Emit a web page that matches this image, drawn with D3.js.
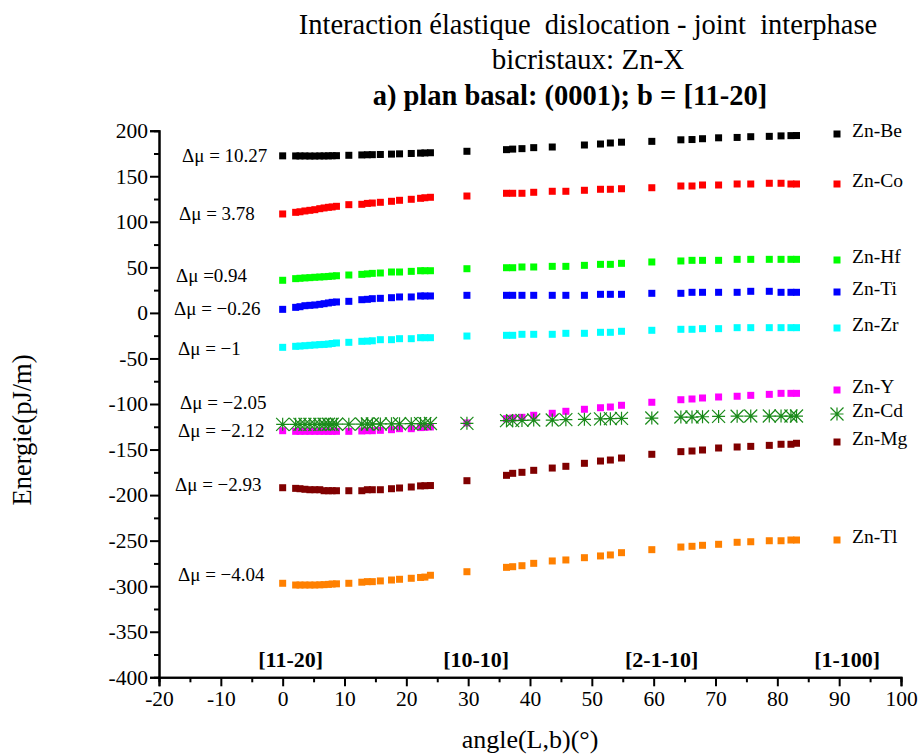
<!DOCTYPE html>
<html>
<head>
<meta charset="utf-8">
<script src="https://cdn.jsdelivr.net/npm/d3@7"></script>
<style>
  html, body { margin: 0; padding: 0; background: #fff; }
  svg { display: block; font-family: "Liberation Serif", "Times New Roman", serif; }
</style>
</head>
<body>
<svg id="chart" width="919" height="755"></svg>
<script>
// Angle between dislocation line L and Burgers vector b (degrees)
const angles = [0, 2.1, 2.8, 3.6, 4.4, 5.2, 6.0, 6.7, 7.4, 8.0, 8.7,
  10.7, 12.8, 13.7, 14.5, 15.8, 17.6, 18.9, 20.8, 22.3, 23.0, 23.9,
  29.8,
  36.2, 37.2, 38.7, 40.6, 43.6, 45.8, 48.8, 51.4, 53.0, 54.8,
  59.7,
  64.4, 66.2, 67.9, 70.5, 73.5, 75.7, 78.7, 80.6, 82.2, 83.1];

// Interaction energy (pJ/m) for each bicrystal
const znBe = [172.4,172.3,172.3,172.3,172.2,172.2,172.3,172.3,172.4,172.5,172.6,
  173.0,173.4,173.6,173.7,173.9,174.3,174.6,175.0,175.4,175.6,175.8,
  177.4,
  179.2,179.8,180.3,181.4,182.1,null,184.3,185.4,186.5,187.4,
  188.3,
  190.0,190.3,191.2,192.2,192.6,193.4,193.8,194.3,194.6,194.7];
const znCo = [108.6,110.4,111.0,111.9,112.6,113.3,114.4,115.2,115.9,116.3,117.0,
  118.8,119.2,120.2,120.6,121.4,122.5,123.6,124.7,125.8,126.4,126.9,
  128.3,
  131.3,131.3,131.3,132.4,133.5,133.5,134.6,135.7,135.7,136.3,
  137.4,
  139.3,139.3,140.4,140.4,141.5,141.5,142.3,142.3,141.5,141.5];
const znHf = [35.8,37.6,38.0,38.4,38.7,39.1,39.4,39.7,40.0,40.4,40.8,
  41.6,42.3,42.8,43.4,43.8,44.9,44.9,45.6,46.3,46.3,46.3,
  48.5,
  49.6,49.6,50.4,50.4,51.1,51.1,52.2,53.3,53.3,54.4,
  55.9,
  57.0,57.7,57.7,57.7,58.8,58.8,58.8,58.8,58.8,58.8];
const znTi = [3.9,6.1,6.8,7.9,8.3,8.7,9.4,10.1,10.9,11.6,12.0,
  12.7,14.5,14.9,15.6,16.0,16.7,17.5,17.5,18.6,18.6,18.6,
  19.3,
  19.3,19.3,19.3,19.3,19.3,19.3,19.3,20.4,20.4,20.4,
  21.5,
  21.5,22.6,22.6,22.6,22.6,23.7,23.7,22.6,22.6,22.6];
const znZr = [-37.8,-36.7,-36.4,-36.0,-35.6,-35.2,-34.8,-34.6,-34.2,-33.6,-33.0,
  -32.3,-31.2,-31.0,-30.6,-29.4,-29.4,-28.3,-28.3,-27.2,-27.2,-27.2,
  -25.4,
  -24.6,-24.6,-23.5,-23.5,-23.5,-22.4,-22.4,-21.3,-21.3,-20.2,
  -19.1,
  -18.0,-18.0,-17.3,-17.3,-16.2,-16.2,-16.2,-16.2,-16.2,-16.2];
const znY = [-129.3,-130,-130,-130,-130,-130,-130,-130,-130,-130,-130,
  -130,-129.6,-129.3,-129.3,-128.9,-128.2,-127.1,-127.1,-125.9,-125.6,-125.2,
  -120.8,
  -116.1,-115.4,-114.6,-112.4,-110.2,-108.0,-105.8,-104.1,-103.3,-101.4,
  -98.1,
  -95.3,-94.5,-93.4,-92.3,-91.5,-90.5,-89.4,-88.3,-88.3,-88.3];
const znCd = [-122.3,-122.3,-122.3,-122.3,-122.3,-122.3,-122.3,-122.2,-122.2,-122.2,-122.2,
  -122.1,-122.0,-122.0,-122.0,-121.9,-121.8,-121.7,-121.6,-121.5,-121.5,-121.4,
  -121.2,
  -118.3,-118.3,-118.0,-117.6,-117.6,-117.2,-116.8,-116.4,-116.1,-115.7,
  -115.4,
  -114.3,-114.3,-114.0,-113.6,-113.4,-113.2,-113.2,-113.2,-113.2,-113.2];
const znMg = [-191.9,-192.6,-193.0,-193.6,-194.1,-194.1,-194.1,-195.2,-195.2,-195.2,-195.2,
  -195.2,-195.2,-194.1,-194.1,-194.1,-193.0,-192.2,-191.1,-189.9,-189.7,-189.5,
  -184.2,
  -178.3,-176.1,-175.0,-172.8,-170.3,-168.4,-165.1,-162.6,-161.5,-159.3,
  -155.2,
  -152.3,-151.6,-150.5,-148.3,-147.2,-146.5,-145.4,-144.2,-144.2,-143.1];
const znTl = [-296.8,-298.7,-298.7,-298.7,-298.7,-298.7,-298.5,-298.3,-298.0,-297.6,-297.4,
  -296.8,-295.6,-295.0,-295.0,-294.2,-293.2,-292.4,-291.3,-290.4,-290.0,-288.0,
  -284.1,
  -279.3,-278.6,-277.5,-274.9,-272.3,-271.2,-268.7,-266.8,-265.7,-263.2,
  -259.9,
  -257.0,-256.2,-255.1,-254.0,-251.8,-251.2,-250.1,-250.1,-249.3,-249.3];

const seriesNames = ["Zn-Be", "Zn-Co", "Zn-Hf", "Zn-Ti", "Zn-Zr", "Zn-Y", "Zn-Cd", "Zn-Mg", "Zn-Tl"];
const seriesValues = [znBe, znCo, znHf, znTi, znZr, znY, znCd, znMg, znTl];
const deltaMu = ["10.27", "3.78", "0.94", "\u22120.26", "\u22121", "\u22122.05", "\u22122.12", "\u22122.93", "\u22124.04"];

const xTicks = [-20, -10, 0, 10, 20, 30, 40, 50, 60, 70, 80, 90, 100];
const yTicks = [200, 150, 100, 50, 0, -50, -100, -150, -200, -250, -300, -350, -400];
const directionLabels = ["[11-20]", "[10-10]", "[2-1-10]", "[1-100]"];
const directionAngles = [0, 30, 60, 90];

// ---- styling / layout ----
const colors = ["#000000", "#ff0000", "#00ff00", "#0000ff", "#00ffff", "#ff00ff", "#1a8a1a", "#800000", "#ff8000"];
const symbols = ["square", "square", "square", "square", "square", "square", "asterisk", "square", "square"];
const legendY = [134, 184, 260, 292, 328, 390, 414, 442, 540];
const dmuPos = [[182, 156], [179, 214], [176, 276], [174, 309], [178, 349], [180, 403], [178, 431], [175, 485], [178, 575]];

const svg = d3.select("#chart");
const x = d3.scaleLinear().domain([-20, 100]).range([159, 901]);
const y = d3.scaleLinear().domain([-400, 200]).range([677.3, 130.7]);

// Titles
const title = svg.append("g").attr("fill", "#000").attr("text-anchor", "middle");
title.append("text").attr("x", 588).attr("y", 34).attr("font-size", 28.5)
  .attr("xml:space", "preserve")
  .text("Interaction élastique  dislocation - joint  interphase");
title.append("text").attr("x", 588).attr("y", 69).attr("font-size", 29).text("bicristaux: Zn-X");
title.append("text").attr("x", 570).attr("y", 105).attr("font-size", 28.5).attr("font-weight", "bold")
  .text("a) plan basal: (0001); b = [11-20]");

// Axes
const fmt = d => String(d);
const yAxis = d3.axisLeft(y).tickValues(yTicks).tickSize(9).tickPadding(2).tickFormat(fmt);
const yMinor = d3.axisLeft(y).tickValues(d3.range(-375, 200, 50)).tickSize(5).tickFormat("");
const xAxis = d3.axisBottom(x).tickValues(xTicks).tickSize(9).tickPadding(4).tickFormat(fmt);
const xMinor = d3.axisBottom(x).tickValues(d3.range(-15, 100, 10)).tickSize(5).tickFormat("");

function styleAxis(g) {
  g.selectAll(".domain").attr("stroke", "#000").attr("stroke-width", 2);
  g.selectAll(".tick line").attr("stroke", "#000").attr("stroke-width", 2);
  g.selectAll("text").attr("font-family", "Liberation Serif, Times New Roman, serif")
    .attr("font-size", 21.5).attr("fill", "#000");
}
svg.append("g").attr("transform", "translate(159,0)").call(yMinor).call(styleAxis);
svg.append("g").attr("transform", "translate(159,0)").call(yAxis).call(styleAxis);
svg.append("g").attr("transform", "translate(0,677.3)").call(xMinor).call(styleAxis);
svg.append("g").attr("transform", "translate(0,677.3)").call(xAxis).call(styleAxis);

// Axis titles
svg.append("text").attr("x", 530).attr("y", 748).attr("text-anchor", "middle").attr("font-size", 26)
  .text("angle(L,b)(°)");
svg.append("text").attr("transform", "translate(31,430) rotate(-90)").attr("text-anchor", "middle")
  .attr("font-size", 26.5).text("Energie(pJ/m)");

// Crystallographic direction labels
svg.append("g").selectAll("text").data(directionLabels).join("text")
  .attr("x", (d, i) => x(directionAngles[i]) + 8)
  .attr("y", 667)
  .attr("text-anchor", "middle")
  .attr("font-size", 22).attr("font-weight", "bold")
  .text(d => d);

// Markers
const sq = 7;
function drawMarker(g, sym, color, cx, cy) {
  if (sym === "square") {
    g.append("rect").attr("x", cx - sq / 2).attr("y", cy - sq / 2)
      .attr("width", sq).attr("height", sq).attr("fill", color);
  } else {
    const r = 6.5;
    g.append("path")
      .attr("d", `M${cx - r},${cy}H${cx + r}M${cx},${cy - r}V${cy + r}` +
        `M${cx - r},${cy - r}L${cx + r},${cy + r}M${cx - r},${cy + r}L${cx + r},${cy - r}`)
      .attr("stroke", color).attr("stroke-width", 1.2).attr("fill", "none");
  }
}

const plot = svg.append("g");
seriesValues.forEach((vals, s) => {
  const g = plot.append("g").attr("class", "series");
  angles.forEach((a, i) => {
    if (vals[i] === null) return;
    drawMarker(g, symbols[s], colors[s], x(a), y(vals[i]));
  });
});

// Series legend on the right
const legend = svg.append("g");
seriesNames.forEach((name, s) => {
  drawMarker(legend, symbols[s], colors[s], 837, legendY[s]);
  legend.append("text").attr("x", 852).attr("y", legendY[s] + 3).attr("font-size", 19.5)
    .attr("fill", "#000").text(name);
});

// Chemical potential difference annotations
svg.append("g").selectAll("text").data(deltaMu).join("text")
  .attr("x", (d, i) => dmuPos[i][0])
  .attr("y", (d, i) => dmuPos[i][1] + 6)
  .attr("font-size", 19)
  .attr("xml:space", "preserve")
  .text((d, i) => i === 2 ? "\u0394\u03bc =" + d : "\u0394\u03bc = " + d);
</script>
</body>
</html>
